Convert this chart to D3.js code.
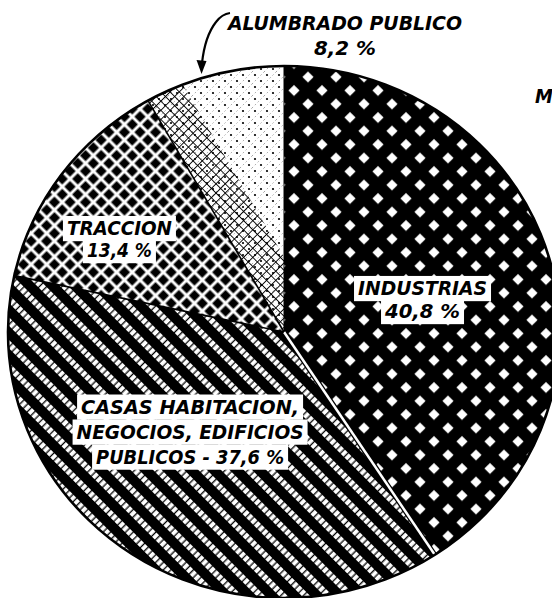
<!DOCTYPE html>
<html><head><meta charset="utf-8">
<script src="https://cdn.jsdelivr.net/npm/d3@7"></script>
<style>html,body{margin:0;padding:0;background:#fff;overflow:hidden}svg{display:block}</style>
</head><body>
<svg id="chart" width="552" height="598"></svg>
<script>
// ---- data ----
const categories = ["INDUSTRIAS", "CASAS HABITACION, NEGOCIOS, EDIFICIOS PUBLICOS", "TRACCION", "ALUMBRADO PUBLICO"];
const values = [40.8, 37.6, 13.4, 8.2];
const labelLines = [
  ["INDUSTRIAS", "40,8 %"],
  ["CASAS HABITACION,", "NEGOCIOS, EDIFICIOS", "PUBLICOS - 37,6 %"],
  ["TRACCION", "13,4 %"],
  ["ALUMBRADO PUBLICO", "8,2 %"]
];
const sideText = ["M"];

// ---- layout / style ----
const W = 552, H = 598;
const cx = 284, cy = 332, rx = 276, ry = 266, k = ry / rx;
const fontSize = 19.5, capH = 0.729 * fontSize;
const labelStyle = [
  {widths: [129, 75], lh: 23, angleOffsetDeg: 2.9, frac: 0.5165, box: true},
  {widths: [218, 227, 188], lh: 25, angleOffsetDeg: 7.7, frac: 0.506, box: true},
  {widths: [105, 65], lh: 22, angleOffsetDeg: -6.0, frac: 0.691, box: true},
  {widths: [234, 62], lh: 25, outside: {x: 345, y: 35}, box: false}
];
const patIds = ["pat-ind", "pat-casas", "pat-trac", "pat-alum"];

const svg = d3.select("#chart");
const defs = svg.append("defs");
const pie = d3.pie().sort(null).value(d => d);
const arcs = pie(values);
const arcGen = d3.arc().innerRadius(0).outerRadius(rx);
const pt = (a, f) => [cx + Math.sin(a) * rx * f, cy - Math.cos(a) * ry * f];
const ellT = `translate(${cx},${cy}) scale(1,${k})`;

function pattern(id, w, h, tr) {
  const p = defs.append("pattern").attr("id", id).attr("patternUnits", "userSpaceOnUse")
    .attr("width", w).attr("height", h);
  if (tr) p.attr("patternTransform", tr);
  return p;
}
// INDUSTRIAS: black with white diamonds
{
  const p = pattern("pat-ind", 28, 27).attr("x", 21).attr("y", 16.25);
  p.append("rect").attr("width", 28).attr("height", 27).attr("fill", "#000");
  [[7, 6.75], [21, 20.25]].forEach(([x, y]) => {
    const s = 5.6;
    p.append("polygon").attr("points", `${x},${y - s} ${x + s},${y} ${x},${y + s} ${x - s},${y}`).attr("fill", "#fff");
  });
}
// CASAS: diagonal black bands and chain of white squares
{
  const p = pattern("pat-casas", 16, 16, "rotate(45)");
  p.append("rect").attr("width", 16).attr("height", 16).attr("fill", "#fff");
  p.append("rect").attr("width", 16).attr("height", 10).attr("fill", "#000");
  [0.5, 5.8, 11.1].forEach(x => p.append("rect").attr("x", x).attr("y", 10).attr("width", 1.3).attr("height", 6).attr("fill", "#000"));
}
// TRACCION: rotated checker grid
{
  const p = pattern("pat-trac", 11, 11, "rotate(45)");
  p.append("rect").attr("width", 11).attr("height", 11).attr("fill", "#fff");
  p.append("rect").attr("x", 1.5).attr("y", 1.5).attr("width", 8).attr("height", 8).attr("fill", "#000");
}
// ALUMBRADO: dots
{
  const p = pattern("pat-alum", 12, 12);
  p.append("rect").attr("width", 12).attr("height", 12).attr("fill", "#fff");
  [[3, 3], [9, 9]].forEach(([x, y]) => p.append("circle").attr("cx", x).attr("cy", y).attr("r", 1.1).attr("fill", "#000"));
  p.append("path").attr("d", "M0,12L12,0").attr("stroke", "#000").attr("stroke-width", 0.5)
    .attr("stroke-dasharray", "1.5,2.5").attr("opacity", 0.7);
}
// fine crosshatch
{
  const p = pattern("pat-xh", 6.5, 6.5, "rotate(45)");
  p.append("path").attr("d", "M0,3.25H6.5M3.25,0V6.5").attr("stroke", "#000").attr("stroke-width", 0.9).attr("fill", "none");
}

// slices
arcs.forEach((a, i) => {
  defs.append("clipPath").attr("id", "clip" + i).append("path").attr("d", arcGen(a)).attr("transform", ellT);
  svg.append("rect").attr("width", W).attr("height", H)
    .attr("fill", `url(#${patIds[i]})`).attr("clip-path", `url(#clip${i})`);
});

// crosshatch band along the TRACCION / ALUMBRADO boundary
{
  const a = arcs[3].startAngle;
  const E = pt(a, 1.1);
  const dxu = E[0] - cx, dyu = E[1] - cy, L = Math.hypot(dxu, dyu);
  const u = [dxu / L, dyu / L];
  let n = [Math.cos(a) * rx, Math.sin(a) * ry];
  const Ln = Math.hypot(n[0], n[1]); n = [n[0] / Ln, n[1] / Ln];
  const w = 38;
  const poly = [[cx - u[0] * 10, cy - u[1] * 10], E, [E[0] + n[0] * w, E[1] + n[1] * w], [cx + n[0] * w - u[0] * 10, cy + n[1] * w - u[1] * 10]];
  defs.append("clipPath").attr("id", "clipBand").append("polygon").attr("points", poly.map(p => p.join(",")).join(" "));
  svg.append("g").attr("clip-path", "url(#clip3)")
    .append("rect").attr("width", W).attr("height", H).attr("fill", "url(#pat-xh)").attr("clip-path", "url(#clipBand)");
}

// boundary lines
const bStyles = [
  [{s: "#000", w: 1}],
  [{s: "#000", w: 5}, {s: "#fff", w: 2.5}],
  [{s: "#000", w: 1.6}],
  [{s: "#000", w: 1.6}]
];
arcs.forEach((a, i) => {
  const e = pt(a.startAngle, 1);
  bStyles[i].forEach(st => {
    svg.append("line").attr("x1", cx).attr("y1", cy).attr("x2", e[0]).attr("y2", e[1])
      .attr("stroke", st.s).attr("stroke-width", st.w);
  });
});

// outline
svg.append("path").attr("d", d3.arc().innerRadius(0).outerRadius(rx)({startAngle: 0, endAngle: 2 * Math.PI}))
  .attr("transform", ellT).attr("fill", "none").attr("stroke", "#000").attr("stroke-width", 2.6)
  .attr("vector-effect", "non-scaling-stroke");

// labels
const fontFamily = "'DejaVu Sans Condensed', 'DejaVu Sans', sans-serif";
labelLines.forEach((lines, i) => {
  const st = labelStyle[i];
  let x, y;
  if (st.outside) { x = st.outside.x; y = st.outside.y; }
  else {
    const a = arcs[i];
    const mid = (a.startAngle + a.endAngle) / 2 + st.angleOffsetDeg * Math.PI / 180;
    [x, y] = pt(mid, st.frac);
  }
  const g = svg.append("g");
  const first = y - (lines.length - 1) * st.lh / 2 + capH / 2;
  if (st.box) {
    lines.forEach((t, j) => {
      const b = first + j * st.lh;
      g.append("rect").attr("x", x - st.widths[j] / 2 - 4).attr("y", b - capH - 5)
        .attr("width", st.widths[j] + 8).attr("height", capH + 11).attr("fill", "#fff");
    });
  }
  lines.forEach((t, j) => {
    g.append("text").attr("x", x).attr("y", first + j * st.lh).attr("text-anchor", "middle")
      .attr("font-family", fontFamily).attr("font-style", "italic").attr("font-weight", "bold")
      .attr("font-size", fontSize)
      .attr("textLength", st.widths[j]).attr("lengthAdjust", "spacingAndGlyphs")
      .attr("fill", "#000")
      .text(t);
  });
});

// arrow for ALUMBRADO PUBLICO
{
  const tipA = arcs[3].startAngle + (arcs[3].endAngle - arcs[3].startAngle) * 0.42;
  const tip = pt(tipA, 1.015);
  const p = d3.path();
  p.moveTo(230, 13);
  p.quadraticCurveTo(222, 14, 216, 22);
  p.quadraticCurveTo(205, 36, tip[0] + 0.5, tip[1] - 11);
  svg.append("path").attr("d", p.toString()).attr("fill", "none").attr("stroke", "#000").attr("stroke-width", 2.2);
  svg.append("polygon").attr("points", `${tip[0] - 5},${tip[1] - 14} ${tip[0] + 5},${tip[1] - 13} ${tip[0]},${tip[1]}`).attr("fill", "#000");
}

// partial side text
svg.append("text").attr("x", 535).attr("y", 103).attr("font-family", fontFamily).attr("font-style", "italic")
  .attr("font-weight", "bold").attr("font-size", 20).attr("fill", "#000").text(sideText[0]);
</script>
</body></html>
